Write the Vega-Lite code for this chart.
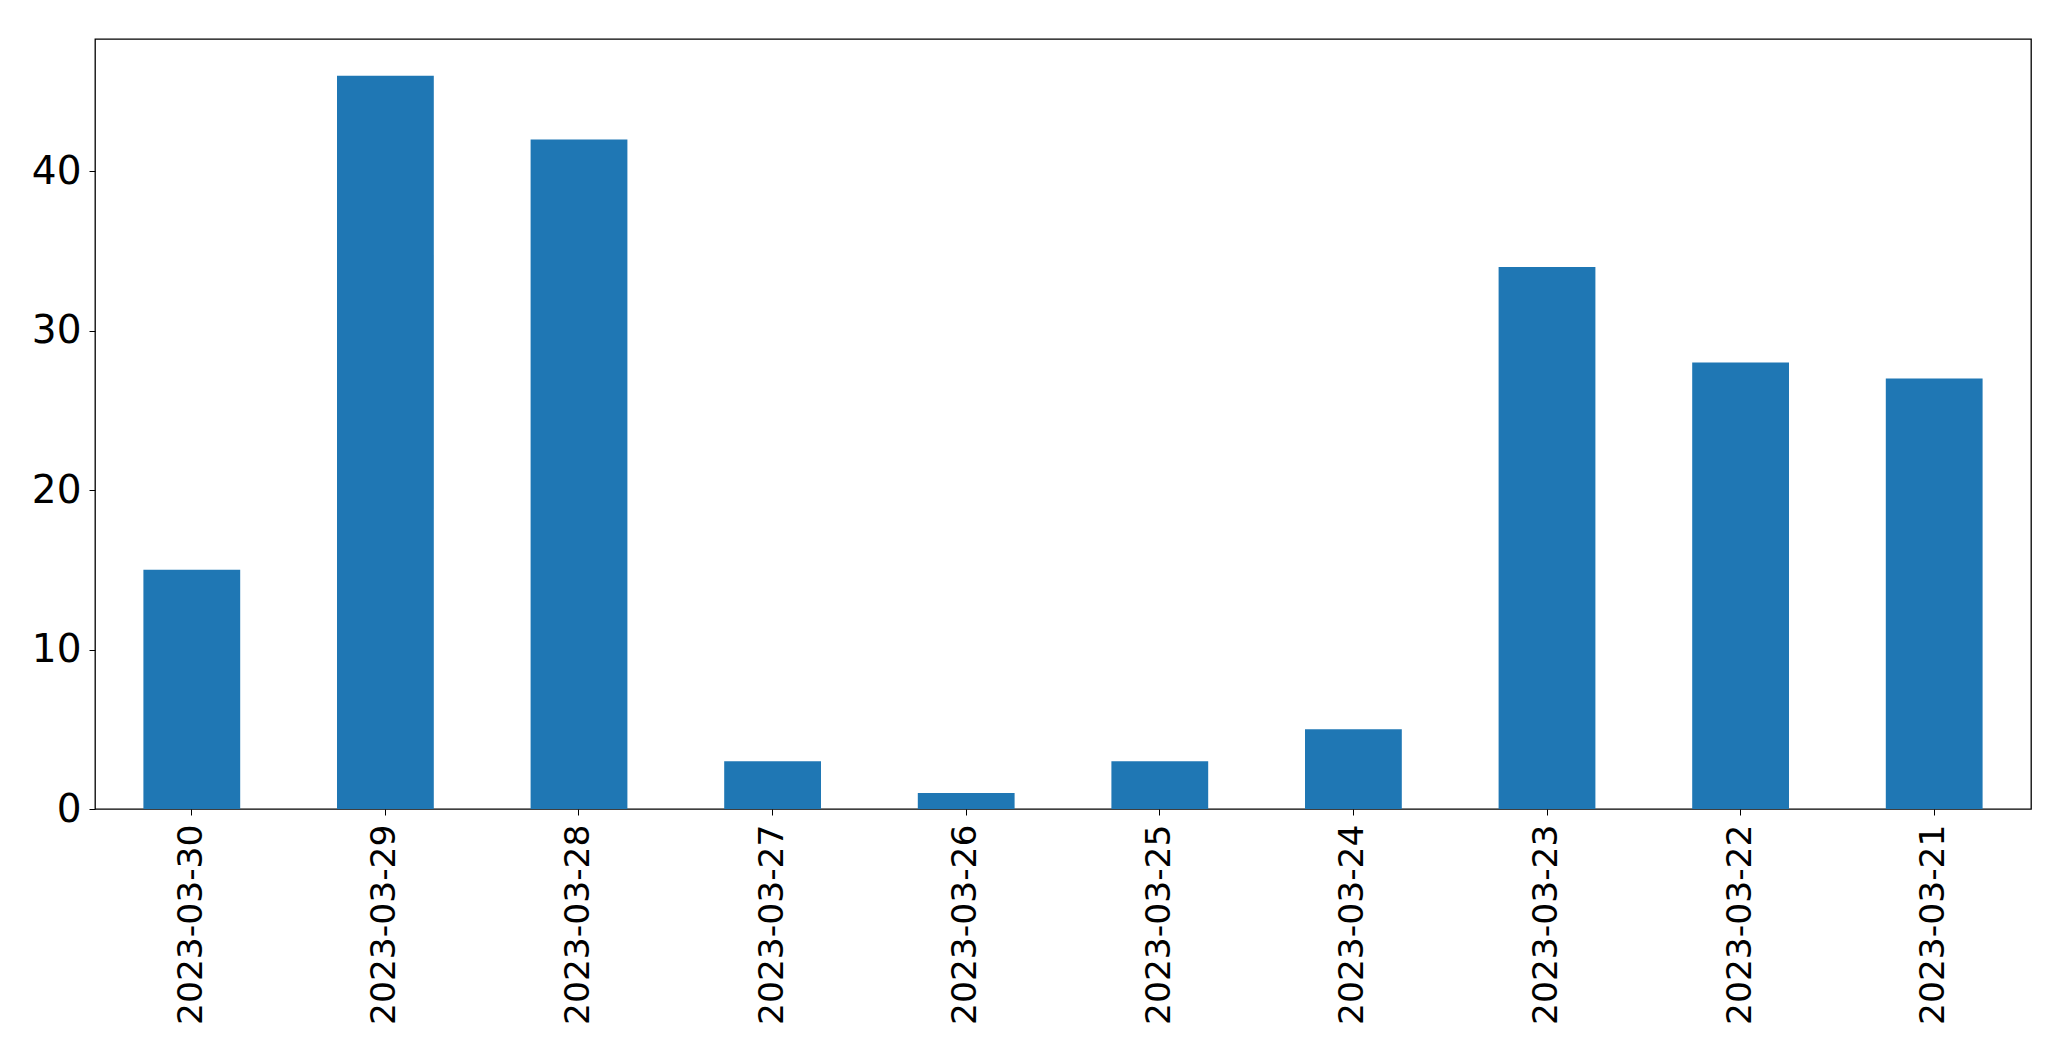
{
  "$schema": "https://vega.github.io/schema/vega-lite/v6.json",
  "autosize": {"type": "none"},
  "padding": {"left": 95, "top": 39, "right": 40, "bottom": 252},
  "width": 1936,
  "height": 770,
  "background": "white",
  "data": {
    "values": [
      {"date": "2023-03-30", "count": 15},
      {"date": "2023-03-29", "count": 46},
      {"date": "2023-03-28", "count": 42},
      {"date": "2023-03-27", "count": 3},
      {"date": "2023-03-26", "count": 1},
      {"date": "2023-03-25", "count": 3},
      {"date": "2023-03-24", "count": 5},
      {"date": "2023-03-23", "count": 34},
      {"date": "2023-03-22", "count": 28},
      {"date": "2023-03-21", "count": 27}
    ]
  },
  "mark": {"type": "bar", "color": "#1f77b4"},
  "encoding": {
    "x": {
      "field": "date",
      "type": "nominal",
      "sort": null,
      "title": null,
      "scale": {"paddingInner": 0.5, "paddingOuter": 0.25},
      "axis": {
        "labelAngle": -90,
        "labelFont": "DejaVu Sans",
        "labelFontSize": 34.5,
        "labelLimit": 0,
        "labelColor": "black",
        "labelPadding": 9,
        "tickColor": "black",
        "tickSize": 6,
        "tickWidth": 1,
        "domain": false
      }
    },
    "y": {
      "field": "count",
      "type": "quantitative",
      "title": null,
      "scale": {"domain": [0, 48.3], "nice": false, "zero": true},
      "axis": {
        "values": [0, 10, 20, 30, 40],
        "grid": false,
        "labelFont": "DejaVu Sans",
        "labelFontSize": 39,
        "labelColor": "black",
        "labelPadding": 8,
        "tickColor": "black",
        "tickSize": 6,
        "tickWidth": 1,
        "domain": false
      }
    }
  },
  "config": {
    "view": {"stroke": "black", "strokeWidth": 1.3}
  }
}
